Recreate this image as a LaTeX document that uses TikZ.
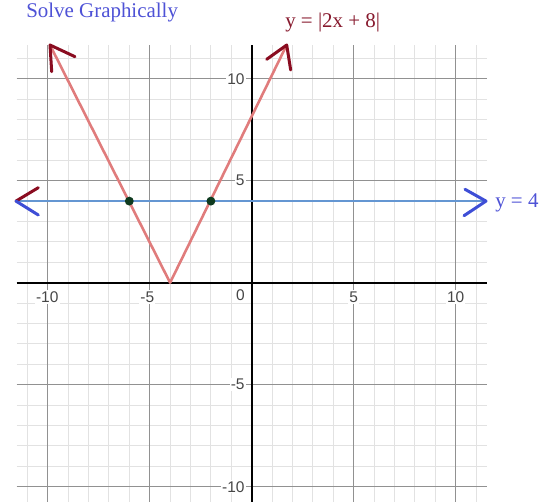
\documentclass[tikz,border=0pt]{standalone}
\usepackage{fontspec}
\setmainfont{Liberation Serif}
\newfontfamily\axfont{Liberation Sans}
\definecolor{minorgrid}{RGB}{226,226,226}
\definecolor{majorgrid}{RGB}{145,145,145}
\definecolor{vred}{RGB}{224,124,124}
\definecolor{hblue}{RGB}{100,150,210}
\definecolor{darkred}{RGB}{138,12,32}
\definecolor{penblue}{RGB}{62,78,214}
\definecolor{titleblue}{RGB}{78,82,214}
\definecolor{eqred}{RGB}{135,25,45}
\definecolor{dotgreen}{RGB}{14,58,30}
\definecolor{ticktext}{RGB}{70,70,70}
\tikzset{
  minorline/.style={draw=minorgrid, line width=0.7pt},
  majorline/.style={draw=majorgrid, line width=0.75pt},
  axisline/.style={draw=black, line width=1.3pt},
  ticklabel/.style={font=\axfont\fontsize{10.8pt}{12pt}\selectfont, text=ticktext, fill=white, inner sep=0.8pt},
  vline/.style={draw=vred, line width=1.8pt, line join=round},
  hline/.style={draw=hblue, line width=1.8pt},
  redpen/.style={draw=darkred, line width=2.1pt, line cap=round, line join=round},
  bluepen/.style={draw=penblue, line width=2.1pt, line cap=round, line join=round},
  ptdot/.style={circle, fill=dotgreen, inner sep=0pt, minimum size=6.2pt},
  caption/.style={font=\fontsize{14.6pt}{16pt}\selectfont, inner sep=0pt}
}
\begin{document}
\begin{tikzpicture}[x=0.6976pt,y=-0.6976pt]
\useasboundingbox (0,0) rectangle (548,502);
% minor grid
\foreach \k in {-11,...,11} {\draw[minorline] ({251.7+20.4*\k},45) -- ({251.7+20.4*\k},502);}
\foreach \k in {-10,...,11} {\draw[minorline] (16.7,{282.7-20.4*\k}) -- (486.7,{282.7-20.4*\k});}
% major grid
\foreach \k in {-10,-5,5,10} {
  \draw[majorline] ({251.7+20.4*\k},45) -- ({251.7+20.4*\k},502);
  \draw[majorline] (16.7,{282.7-20.4*\k}) -- (486.7,{282.7-20.4*\k});
}
% axes
\coordinate (xaxl) at (16.7,282.7);
\coordinate (xaxr) at (486.7,282.7);
\coordinate (yaxt) at (251.7,45);
\coordinate (yaxb) at (251.7,502);
\draw[axisline] (xaxl) -- (xaxr);
\draw[axisline] (yaxt) -- (yaxb);
% tick labels
\node[ticklabel, xshift=-1.7pt] (xm10) at (49.7,297) {-10};
\node[ticklabel, xshift=-1.7pt] (xm5) at (149.7,297) {-5};
\node[ticklabel] (x5) at (353.7,297) {5};
\node[ticklabel] (x10) at (455.7,297) {10};
\node[ticklabel] (x0) at (240.5,295) {0};
\node[ticklabel, anchor=east] (y10) at (246,78.7) {10};
\node[ticklabel, anchor=east] (y5) at (246,180.7) {5};
\node[ticklabel, anchor=east] (ym5) at (246,384.7) {-5};
\node[ticklabel, anchor=east] (ym10) at (246,486.7) {-10};
% curves
\coordinate (vl) at (50,45);
\coordinate (vv) at (170.1,282.7);
\coordinate (vr) at (286.7,45);
\draw[vline] (vl) -- (vv) -- (vr);
\coordinate (hl) at (16,201.1);
\coordinate (hr) at (486,201.1);
\draw[hline] (hl) -- (hr);
% points of intersection
\node[ptdot] (p1) at (129.3,201.1) {};
\node[ptdot] (p2) at (210.9,201.1) {};
% hand drawn arrowheads
\coordinate (vla) at (51.7,71.7);
\coordinate (vlb) at (75,56.7);
\draw[redpen] (vla) -- (vl) -- (vlb);
\coordinate (vra) at (266.7,59.3);
\coordinate (vrb) at (290.7,70);
\draw[redpen] (vra) -- (vr) -- (vrb);
\coordinate (hla) at (38.3,187.7);
\coordinate (hlb) at (38.3,215);
\draw[redpen] (hla) -- (hl);
\draw[bluepen] (hl) -- (hlb);
\coordinate (hra) at (465,189.3);
\coordinate (hrb) at (464,215.7);
\draw[bluepen] (hra) -- (hr) -- (hrb);
% captions
\node[caption, anchor=base west, text=titleblue] (title) at (26,17.5) {Solve Graphically};
\node[caption, anchor=base west, text=eqred] (eqv) at (285,27.7) {y = |2x + 8|};
\node[caption, anchor=base west, text=titleblue] (eqh) at (495,207) {y = 4};
\end{tikzpicture}
\end{document}
